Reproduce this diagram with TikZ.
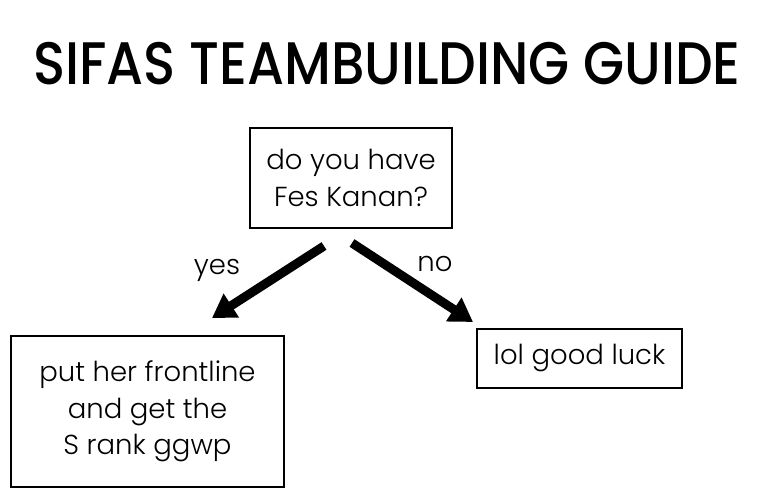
\documentclass[tikz,border=0pt]{standalone}
\usepackage{fontspec}
\setmainfont{Poppins}[UprightFont=* Light]
\newfontfamily\titlefont{Poppins}[UprightFont=* Medium]
\usetikzlibrary{arrows.meta}
\tikzset{
  box/.style={draw=black, line width=1.6pt, align=center, inner sep=0pt,
    font=\fontsize{27.5}{36.5}\selectfont},
  bigarrow/.style={line width=9pt, -{Triangle[length=23pt,width=27pt]}},
  lbl/.style={font=\fontsize{27.5}{36}\selectfont}
}
\begin{document}
\begin{tikzpicture}[x=1pt,y=1pt]
\useasboundingbox[fill=white] (0,0) rectangle (776,-498);
\node[font=\titlefont\fontsize{60}{66}\selectfont, xscale=0.885] (title) at (387,-64) {SIFAS TEAMBUILDING GUIDE};
\node[box, minimum width=202pt, minimum height=100pt] (q) at (351,-178) {do you have\\Fes Kanan?};
\node[box, minimum width=273pt, minimum height=151pt] (yesbox) at (147.5,-411.5) {put her frontline\\and get the\\S rank ggwp};
\node[box, minimum width=205pt, minimum height=59pt] (nobox) at (579.5,-358.5) {lol good luck};
\coordinate (ys) at (324,-246);
\coordinate (ye) at (212,-318);
\coordinate (ns) at (352,-243);
\coordinate (ne) at (473,-322);
\draw[bigarrow] (ys) -- (ye);
\draw[bigarrow] (ns) -- (ne);
\node[lbl] (yes) at (217,-270) {yes};
\node[lbl] (no) at (435,-264) {no};
\end{tikzpicture}
\end{document}
